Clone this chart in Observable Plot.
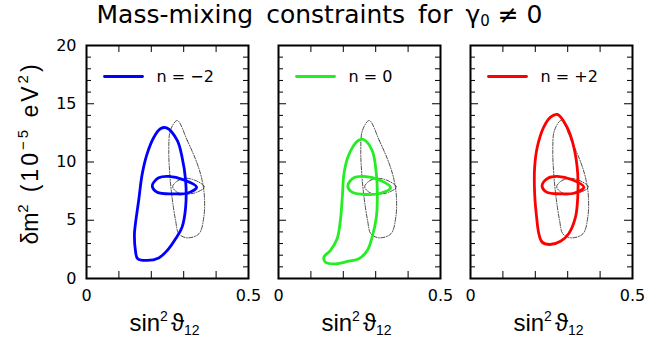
<!DOCTYPE html>
<html><head><meta charset="utf-8">
<script src="https://cdn.jsdelivr.net/npm/d3@7"></script>
<script src="https://cdn.jsdelivr.net/npm/@observablehq/plot@0.6"></script>
<style>
body{margin:0;background:#fff;}
#title{height:36px;width:645px;text-align:center;font-family:"DejaVu Sans";font-size:25px;line-height:30px;box-sizing:border-box;white-space:nowrap;color:#000;padding-right:6px;}
#title .w{word-spacing:5px;}
#title sub{font-size:60%;vertical-align:-0.2em;line-height:0;}
</style></head><body>
<div id="title"><span class="w">Mass-mixing constraints for </span><span>γ<sub>0</sub> ≠ 0</span></div>
<div id="chart"></div>
<script>
// Series (facets) and colours
const series = ["−2", "0", "+2"];
const colors = ["#0000ff", "#22ee22", "#ff0000"];

// Reference (gray dashed) contours, same in every panel: [sin²θ12, δm² (1e-5 eV²)]
const grayLarge = [[0.280,13.56],[0.311,11.85],[0.342,9.84],[0.357,8.41],[0.364,6.98],[0.362,5.26],[0.347,3.84],[0.311,3.49],[0.285,3.84],[0.275,4.98],[0.264,6.98],[0.257,8.98],[0.254,10.99],[0.259,12.70]];
const graySmall = [[0.266,7.90],[0.285,8.45],[0.310,8.60],[0.345,8.30],[0.364,7.85],[0.340,7.40],[0.310,7.25],[0.280,7.40]];

// n = -2
const blueLarge = [[0.247,12.93],[0.280,11.85],[0.295,10.41],[0.306,8.41],[0.306,6.12],[0.295,4.41],[0.275,3.41],[0.249,2.40],[0.223,1.77],[0.187,1.55],[0.158,1.69],[0.151,2.40],[0.148,3.84],[0.151,4.69],[0.161,6.70],[0.172,8.98],[0.187,10.70],[0.208,12.13],[0.228,12.85]];
const blueSmall = [[0.203,7.98],[0.223,8.64],[0.254,8.76],[0.300,8.47],[0.340,7.84],[0.311,7.32],[0.270,7.27],[0.218,7.41]];
// n = 0
const greenLarge = [[0.261,11.95],[0.289,10.99],[0.302,8.98],[0.305,6.98],[0.302,5.26],[0.289,3.55],[0.274,2.40],[0.248,1.69],[0.217,1.49],[0.176,1.26],[0.145,1.40],[0.140,1.83],[0.160,2.40],[0.181,3.41],[0.191,4.98],[0.197,6.98],[0.202,8.98],[0.214,10.41],[0.232,11.42],[0.246,11.85]];
const greenSmall = [[0.214,7.98],[0.232,8.64],[0.263,8.76],[0.310,8.47],[0.346,7.78],[0.315,7.32],[0.274,7.21],[0.227,7.41]];
// n = +2
const redLarge = [[0.268,14.08],[0.298,12.99],[0.319,11.27],[0.331,8.98],[0.331,6.98],[0.324,5.26],[0.303,3.84],[0.278,3.20],[0.245,2.92],[0.221,3.12],[0.211,3.84],[0.204,5.26],[0.198,7.27],[0.198,9.56],[0.206,11.27],[0.226,12.99],[0.247,13.85]];
const redSmall = [[0.221,7.98],[0.239,8.61],[0.268,8.76],[0.314,8.47],[0.350,7.84],[0.319,7.32],[0.278,7.27],[0.235,7.41]];

// Tick values
const xTicks = [0.1, 0.2, 0.3, 0.4];
const xTickLabels = [0, 0.5];
const yMajor = [5, 10, 15];
const yMinor = [1,2,3,4,6,7,8,9,11,12,13,14,16,17,18,19];
const yTickLabels = [0, 5, 10, 15, 20];

// Axis label pieces (base text, superscript, subscript)
const xLabelParts = [{t: "sin"}, {t: "2", sup: true}, {t: "ϑ", dx: 3}, {t: "12", sub: true}];
const yLabelParts = [{t: "δm"}, {t: "2", sup: true}, {t: "(10", dx: 12, ls: 3}, {t: "−5", sup: true, ls: 3}, {t: " eV", ls: 3}, {t: "2", sup: true, ls: 3}, {t: ")", ls: 3}];
const xLabel = xLabelParts.map(p => p.t).join("");
const yLabel = yLabelParts.map(p => p.t).join("");

// Build tables
const seriesContours = [[blueLarge, blueSmall], [greenLarge, greenSmall], [redLarge, redSmall]];
const colorRows = [];
seriesContours.forEach((cs, i) => cs.forEach((pts, j) => pts.forEach(([x, y]) =>
  colorRows.push({n: series[i], color: colors[i], id: series[i] + "-" + j, x, y}))));
const grayRows = [];
[grayLarge, graySmall].forEach((pts, j) => pts.forEach(([x, y]) => grayRows.push({id: "g" + j, x, y})));
const legendRows = series.map((n, i) => ({n, color: colors[i]}));

const panelW = 162, panelH = 233;
const lineShape = {draw(context, l) { context.moveTo(0, 0); context.lineTo(0, -l); }};

const chart = Plot.plot({
  width: 645, height: 308,
  marginTop: 9, marginBottom: 66, marginLeft: 86, marginRight: 13,
  x: {domain: [0, 0.5]},
  y: {domain: [0, 20]},
  fx: {domain: series, paddingInner: 30 / 192, paddingOuter: 0, axis: null, label: null},
  color: {type: "identity"},
  style: {fontFamily: "DejaVu Sans", fontSize: "16px", background: "white", color: "black", overflow: "visible"},
  marks: [
    Plot.line(grayRows, {x: "x", y: "y", z: "id", curve: "catmull-rom-closed", stroke: "#222", strokeWidth: 0.8, strokeDasharray: "4,1.5,1,1.5"}),
    Plot.line(colorRows, {x: "x", y: "y", z: "id", fx: "n", stroke: "color", strokeWidth: 2.8, curve: "catmull-rom-closed"}),
    // inward ticks
    Plot.tickY(yMinor, {y: d => d, insetRight: panelW - 5, stroke: "#000", strokeWidth: 1}),
    Plot.tickY(yMinor, {y: d => d, insetLeft: panelW - 5, stroke: "#000", strokeWidth: 1}),
    Plot.tickY(yMajor, {y: d => d, insetRight: panelW - 8, stroke: "#000", strokeWidth: 1}),
    Plot.tickY(yMajor, {y: d => d, insetLeft: panelW - 8, stroke: "#000", strokeWidth: 1}),
    Plot.tickX(xTicks, {x: d => d, insetTop: panelH - 7, stroke: "#000", strokeWidth: 1}),
    Plot.tickX(xTicks, {x: d => d, insetBottom: panelH - 7, stroke: "#000", strokeWidth: 1}),
    Plot.frame({stroke: "#000", strokeWidth: 2}),
    Plot.axisY({ticks: yTickLabels, tickSize: 0, tickPadding: 10, label: null, fontSize: 16, tickFormat: d => String(d)}),
    Plot.axisX({ticks: xTickLabels, tickSize: 0, tickPadding: 11, label: null, fontSize: 16, tickFormat: d => String(d)}),
    // legend
    Plot.vector(legendRows, {fx: "n", frameAnchor: "top-left", dx: 18, dy: 31, length: 38, rotate: 90, anchor: "start", shape: lineShape, stroke: "color", strokeWidth: 2.8}),
    Plot.text(legendRows, {fx: "n", frameAnchor: "top-left", dx: 70, dy: 31, text: d => "n = " + d.n, textAnchor: "start", lineAnchor: "middle", fontSize: 16, fill: "#000"}),
    // axis labels
    Plot.text(series, {fx: d => d, frameAnchor: "bottom", dx: -3, dy: 52, text: () => xLabel, textAnchor: "middle", lineAnchor: "bottom", fontSize: 24, fontFamily: "Liberation Sans", fill: "#000"}),
    Plot.text([series[0]], {fx: d => d, frameAnchor: "left", dx: -49, dy: -9, rotate: -90, text: () => yLabel, textAnchor: "middle", lineAnchor: "bottom", fontSize: 23, fontFamily: "Liberation Sans", fill: "#000"})
  ]
});

// Turn the axis-label strings into text with real superscripts / subscripts
function richText(node, parts, supSize, supShift, subShift) {
  node.textContent = "";
  let shift = 0;
  for (const p of parts) {
    const ts = document.createElementNS("http://www.w3.org/2000/svg", "tspan");
    const target = p.sup ? -supShift : p.sub ? subShift : 0;
    ts.setAttribute("dy", target - shift);
    shift = target;
    if (p.sup || p.sub) ts.setAttribute("font-size", supSize);
    if (p.dx) ts.setAttribute("dx", p.dx);
    if (p.ls) ts.setAttribute("letter-spacing", p.ls);
    ts.textContent = p.t;
    node.appendChild(ts);
  }
}
d3.select(chart).selectAll("text").each(function() {
  if (this.textContent === xLabel) richText(this, xLabelParts, 14, 10, 4);
  else if (this.textContent === yLabel) richText(this, yLabelParts, 15, 10, 4);
});
document.getElementById("chart").appendChild(chart);
</script>
</body></html>
